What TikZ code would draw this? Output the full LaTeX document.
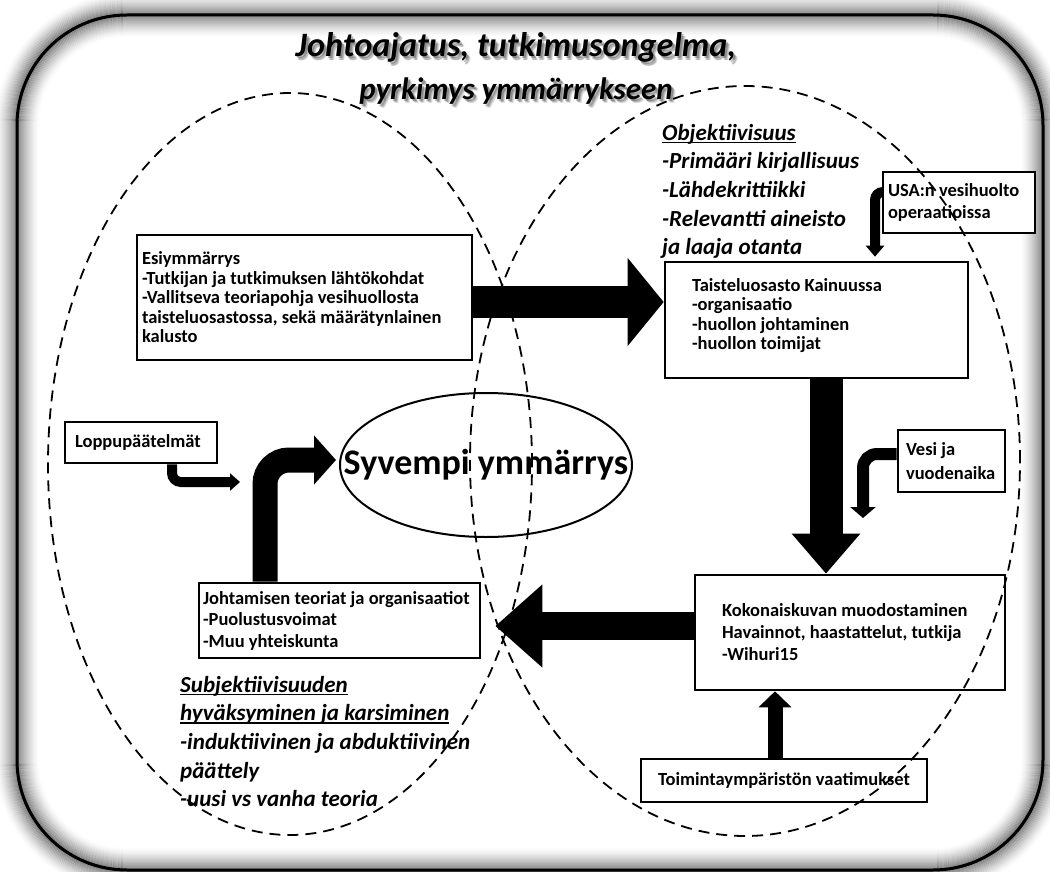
\documentclass[tikz,border=0pt]{standalone}
\usepackage{fontspec}
\setmainfont{Carlito}
\usetikzlibrary{arrows.meta,shapes.geometric,calc}

\newcommand\boxfont[1]{\bfseries\fontsize{18.5}{#1}\selectfont}
\newcommand\notefont{\bfseries\itshape\fontsize{23}{28.7}\selectfont}
\newcommand\titlefont{\bfseries\itshape\fontsize{31}{43}\selectfont}
\newcommand\ulin[1]{\sbox0{#1}\rlap{\rule[-3pt]{\wd0}{1.3pt}}\usebox0}
\newcommand\titletext{{\fontsize{34.2}{43}\selectfont Johtoajatus, tutkimusongelma,}\\pyrkimys ymmärrykseen}

\tikzset{
  box/.style={draw, line width=2.6pt, fill=white, font=\boxfont{#1}, align=flush left,
    inner ysep=0pt},
  box/.default=19.5,
  zone/.style={draw=black, line width=1.8pt, dash pattern=on 11pt off 7pt},
  note/.style={font=\notefont, align=flush left, inner sep=0pt, anchor=base west},
}

\begin{document}
\begin{tikzpicture}[x=1pt,y=-1pt]
\useasboundingbox (0,0) rectangle (1050,872);
\fill[white] (0,0) rectangle (1050,872);

% soft glow on both sides of the frame
\foreach \i in {1,...,22}{
  \pgfmathsetmacro\op{0.42*(1-\i/23)^1.6}
  \pgfmathsetmacro\ri{110-\i}
  \pgfmathsetmacro\ro{110+\i}
  \draw[line width=1.3pt, black, opacity=\op, rounded corners=\ri pt]
    (17+\i,15+\i) rectangle (1043-\i,870-\i);
  \draw[line width=1.3pt, black, opacity=\op, rounded corners=\ro pt]
    (17-\i,15-\i) rectangle (1043+\i,870+\i);
}
\draw[line width=3pt, rounded corners=110pt] (17,15) rectangle (1043,870);

% heading with its soft shadow (anchored at the baseline of its last line)
\foreach \d/\o in {4/0.12,3/0.18,2/0.24}{
  \node[font=\titlefont, align=flush center, anchor=base, text=black, opacity=\o]
    (titleshadow) at (516+\d,100+\d) {\titletext};
}
\node[font=\titlefont, align=flush center, anchor=base] (title) at (516,100) {\titletext};

% boxes
\node[box, minimum width=335pt, minimum height=125pt, text width=325pt, inner xsep=5pt]
  (esi) at (304.5,297.5)
  {Esiymmärrys\\-Tutkijan ja tutkimuksen lähtökohdat\\-Vallitseva teoriapohja vesihuollosta\\taisteluosastossa, sekä määrätynlainen\\kalusto};
\node[box, minimum width=303pt, minimum height=116pt, text width=249pt, inner xsep=27pt]
  (tais) at (816.5,320)
  {Taisteluosasto Kainuussa\\-organisaatio\\-huollon johtaminen\\-huollon toimijat\\[-8pt]\mbox{}};
\node[box=22, minimum width=152pt, minimum height=61pt, text width=142pt, inner xsep=5pt]
  (usa) at (959,202.5) {USA:n vesihuolto\\operaatioissa};
\node[box, minimum width=152pt, minimum height=41pt, text width=132pt, inner xsep=10pt]
  (lop) at (141,442.5) {Loppupäätelmät};
\node[box=24, minimum width=107pt, minimum height=62pt, text width=91pt, inner xsep=8pt]
  (vesi) at (951.5,461) {Vesi ja\\vuodenaika};
\node[box=22, minimum width=310pt, minimum height=115pt, text width=256pt, inner xsep=27pt]
  (koko) at (850,632.5)
  {Kokonaiskuvan muodostaminen\\Havainnot, haastattelut, tutkija\\-Wihuri15};
\node[box=21.5, minimum width=281pt, minimum height=75pt, text width=277pt, inner xsep=2pt]
  (joht) at (339.5,620.5)
  {\hspace{2pt}Johtamisen teoriat ja organisaatiot\\\hspace{2pt}-Puolustusvoimat\\\hspace{2pt}-Muu yhteiskunta};
\node[box, align=flush center, minimum width=286pt, minimum height=43pt, text width=276pt, inner xsep=5pt]
  (toim) at (784,780.5) {Toimintaympäristön vaatimukset};

% central ellipse and its text
\node[draw, ellipse, line width=2pt, minimum width=292pt, minimum height=144pt, inner sep=0pt]
  (syv) at (486,465) {};
\node[font=\bfseries\fontsize{36}{40}\selectfont, inner sep=0pt] (syvtext) at (syv.center)
  {Syvempi ymmärrys};

% free texts (anchored at the baseline of their last line)
\node[note] (obj) at (662,254.8)
  {\ulin{Objektiivisuus}\\-Primääri kirjallisuus\\-Lähdekrittiikki\\-Relevantti aineisto\\ja laaja otanta};
\node[note] (subj) at (180,806.8)
  {\ulin{Subjektiivisuuden}\\\ulin{hyväksyminen ja karsiminen}\\-induktiivinen ja abduktiivinen\\päättely\\-uusi vs vanha teoria};

% block arrows
\coordinate (a1) at ([yshift=-4.5pt]esi.east);
\draw[line width=32pt, -{Triangle[width=86pt,length=36pt]}] (a1) -- (a1 -| tais.west);

\coordinate (a2) at ([xshift=9.5pt]tais.south);
\draw[line width=33pt, -{Triangle[width=66pt,length=40pt]}] (a2) -- (a2 |- koko.north);

\coordinate (a3) at ([yshift=6.5pt]koko.west);
\draw[line width=28pt, -{Triangle[width=80pt,length=47pt]}, shorten >=14pt] (a3) -- (a3 -| joht.east);

\coordinate (a4) at ([xshift=-9pt]toim.north);
\draw[line width=15pt, -{Triangle[width=32pt,length=16pt]}] (a4) -- (a4 |- koko.south);

\coordinate (a5) at ([xshift=-74.5pt]joht.north);
\coordinate (a5e) at ([shift={(-3pt,5pt)}]syv.west);
\draw[line width=25pt, rounded corners=24pt, -{Triangle[width=48pt,length=22pt]}] (a5) |- (a5e);

\coordinate (a6) at ([xshift=31pt]lop.south);
\coordinate (lopend) at (240,482);
\draw[line width=10pt, rounded corners=9pt, -{Triangle[width=17pt,length=10pt]}] (a6) |- (lopend);

\coordinate (a7) at ([yshift=10.5pt]usa.west);
\coordinate (a7e) at ([xshift=58.5pt]tais.north);
\draw[line width=10pt, rounded corners=8pt, -{Triangle[width=18pt,length=11pt]}, shorten >=4pt] (a7) -| (a7e);

\coordinate (a8) at ([yshift=7pt]vesi.west);
\coordinate (vesiend) at (863,518);
\draw[line width=12pt, rounded corners=14pt, -{Triangle[width=25pt,length=11pt]}] (a8) -| (vesiend);

% the two overlapping fields
\draw[zone] (290,464) ellipse [x radius=242pt, y radius=371pt];
\draw[zone] (745,461) ellipse [x radius=275pt, y radius=375pt];
\end{tikzpicture}
\end{document}
